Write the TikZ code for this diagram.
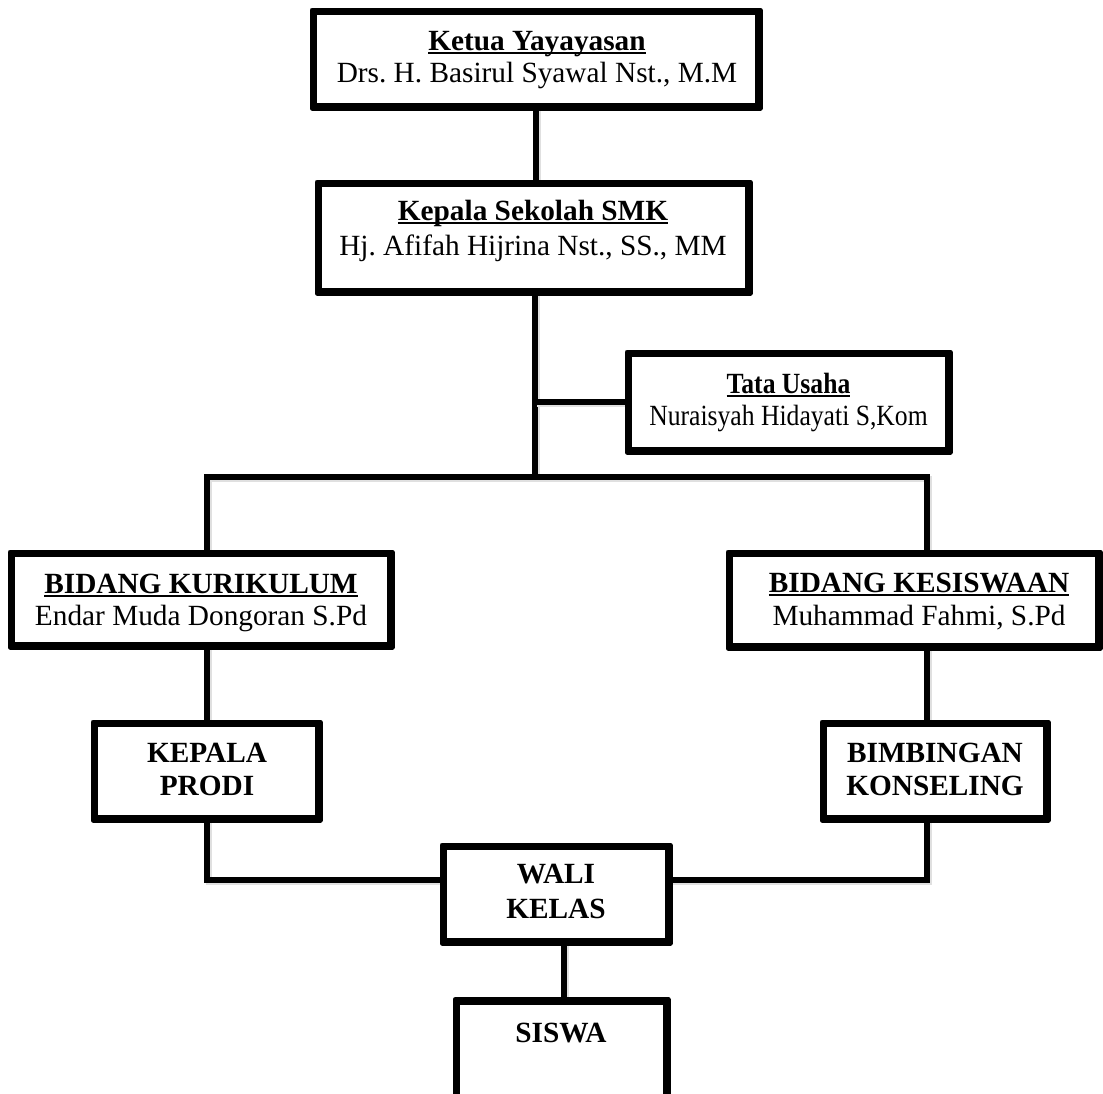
\documentclass[tikz,border=0pt]{standalone}
\usepackage{fontspec}
\usepackage{graphicx}
\setmainfont{Liberation Serif}
\usetikzlibrary{calc}
\frenchspacing
\newcommand{\myul}[1]{\setbox0\hbox{#1}\rlap{\rule[-4pt]{\wd0}{2.4pt}}\box0}
\newcommand{\narrow}[1]{\scalebox{0.875}[1]{#1}}
\begin{document}
\begin{tikzpicture}[x=1pt,y=-1pt,
  box/.style={draw=black, line width=5pt, line join=round, rectangle, inner sep=0pt, fill=white},
  conn/.style={draw=black, line width=5.5pt,
    preaction={draw=black!12, line width=6pt, transform canvas={shift={(1.5pt,-2pt)}}}},
  ttl/.style={font=\fontsize{29.3}{33}\selectfont\bfseries, anchor=base, inner sep=0pt},
  nm/.style={font=\fontsize{29.3}{33}\selectfont, anchor=base, inner sep=0pt}]
\useasboundingbox[fill=white] (0,0) rectangle (1103,1093);

% boxes
\node[box, minimum width=443pt, minimum height=93pt] (ketua) at (536,59) {};
\node[box, minimum width=428pt, minimum height=106pt] (kepala) at (533.5,237.5) {};
\node[box, minimum width=318pt, minimum height=95pt] (tata) at (788.5,402) {};
\node[box, minimum width=377pt, minimum height=90pt] (kurik) at (201,599.5) {};
\node[box, minimum width=367pt, minimum height=91pt] (kesis) at (914,600) {};
\node[box, minimum width=222pt, minimum height=93pt] (prodi) at (206.5,771) {};
\node[box, minimum width=221pt, minimum height=93pt] (bimb) at (935,771) {};
\node[box, minimum width=223pt, minimum height=93pt] (wali) at (556,894) {};
\node[box, minimum width=208pt, minimum height=136pt] (siswa) at (561.5,1070) {};

% junction points
\coordinate (bus) at (535,477);
\coordinate (busL) at (207,477);
\coordinate (busR) at (927,477);
\coordinate (wl) at ($(wali.west)+(0,-14)$);
\coordinate (wr) at ($(wali.east)+(0,-14)$);
\coordinate (ws) at ($(wali.south)+(8,0)$);

% connectors
\draw[conn] (ketua.south) -- (kepala.north -| ketua.south);
\draw[conn] (kepala.south -| bus) -- (bus);
\draw[conn] (tata.west) -- (tata.west -| bus);
\draw[conn] (kurik.north -| busL) -- (busL) -- (busR) -- (kesis.north -| busR);
\draw[conn] (kurik.south -| busL) -- (prodi.north -| busL);
\draw[conn] (kesis.south -| busR) -- (bimb.north -| busR);
\draw[conn] (prodi.south -| busL) -- (wl -| busL) -- (wl);
\draw[conn] (bimb.south -| busR) -- (wr -| busR) -- (wr);
\draw[conn] (ws) -- (siswa.north -| ws);

% redraw box borders on top
\foreach \b in {ketua,kepala,tata,kurik,kesis,prodi,bimb,wali,siswa}
  \draw[line width=5pt, line join=round] (\b.north west) rectangle (\b.south east);

% texts
\node[ttl] (ketuaA) at (537,50) {\myul{Ketua Yayayasan}};
\node[nm]  (ketuaB) at (537,82) {Drs. H. Basirul Syawal Nst., M.M};
\node[ttl] (kepalaA) at (533,220) {\myul{Kepala Sekolah SMK}};
\node[nm]  (kepalaB) at (533,255) {Hj. Afifah Hijrina Nst., SS., MM};
\node[ttl] (tataA) at (788.5,393) {\narrow{\myul{Tata Usaha}}};
\node[nm]  (tataB) at (788.5,425) {\narrow{Nuraisyah Hidayati S,Kom}};
\node[ttl] (kurikA) at (201,593) {\myul{BIDANG KURIKULUM}};
\node[nm]  (kurikB) at (201,625) {Endar Muda Dongoran S.Pd};
\node[ttl] (kesisA) at (919,592) {\myul{BIDANG KESISWAAN}};
\node[nm]  (kesisB) at (919,625) {Muhammad Fahmi, S.Pd};
\node[ttl] (prodiA) at (207,762) {KEPALA};
\node[ttl] (prodiB) at (207,795) {PRODI};
\node[ttl] (bimbA) at (935,762) {BIMBINGAN};
\node[ttl] (bimbB) at (935,795) {KONSELING};
\node[ttl] (waliA) at (556,883) {WALI};
\node[ttl] (waliB) at (556,918) {KELAS};
\node[ttl] (siswaA) at (561,1042) {SISWA};
\end{tikzpicture}
\end{document}
